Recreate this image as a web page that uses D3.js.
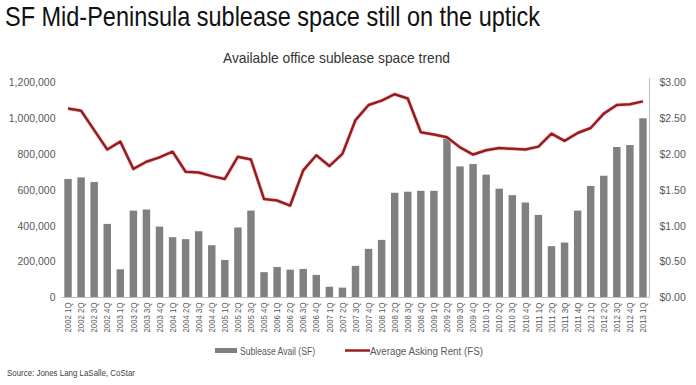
<!DOCTYPE html>
<html><head><meta charset="utf-8">
<script src="https://cdn.jsdelivr.net/npm/d3@7"></script>
<style>body{margin:0;background:#fff;}svg{display:block;font-family:"Liberation Sans",Arial,sans-serif;}</style>
</head><body><svg id="c" width="696" height="385"></svg>
<script>
const quarters = ["2002 1Q","2002 2Q","2002 3Q","2002 4Q","2003 1Q","2003 2Q","2003 3Q","2003 4Q","2004 1Q","2004 2Q","2004 3Q","2004 4Q","2005 1Q","2005 2Q","2005 3Q","2005 4Q","2006 1Q","2006 2Q","2006 3Q","2006 4Q","2007 1Q","2007 2Q","2007 3Q","2007 4Q","2008 1Q","2008 2Q","2008 3Q","2008 4Q","2009 1Q","2009 2Q","2009 3Q","2009 4Q","2010 1Q","2010 2Q","2010 3Q","2010 4Q","2011 1Q","2011 2Q","2011 3Q","2011 4Q","2012 1Q","2012 2Q","2012 3Q","2012 4Q","2013 1Q"];
const subleaseSF = [660000,669000,643000,410000,157000,484000,490000,395000,336000,325000,369000,291000,209000,390000,484000,141000,170000,155000,159000,126000,60000,55000,176000,271000,321000,583000,589000,594000,594000,885000,730000,743000,684000,606000,570000,529000,460000,286000,306000,484000,621000,678000,838000,849000,998000];
const askingRent = [2.63,2.60,2.33,2.06,2.17,1.79,1.89,1.95,2.03,1.75,1.74,1.69,1.65,1.96,1.92,1.37,1.35,1.28,1.77,1.98,1.83,2.00,2.47,2.68,2.74,2.83,2.77,2.30,2.27,2.23,2.09,1.99,2.05,2.08,2.07,2.06,2.10,2.28,2.18,2.29,2.36,2.56,2.68,2.69,2.73];
const leftTicks = [0,200000,400000,600000,800000,1000000,1200000];
const rightTicks = [0,0.5,1,1.5,2,2.5,3];
const title = "SF Mid-Peninsula sublease space still on the uptick";
const subtitle = "Available office sublease space trend";
const legendLabels = ["Sublease Avail (SF)","Average Asking Rent (FS)"];
const source = "Source: Jones Lang LaSalle, CoStar";

const svg = d3.select("#c");
const L = 61.5, R = 649.5, T = 82, B = 297.5;
const x = d3.scaleBand().domain(quarters).range([L,R]).paddingInner(0.43).paddingOuter(0.215);
const yL = d3.scaleLinear().domain([0,1200000]).range([B,T]);
const yR = d3.scaleLinear().domain([0,3]).range([B,T]);

svg.append("text").attr("x",5).attr("y",26).attr("font-size",28).attr("fill","#111")
  .attr("textLength",535).attr("lengthAdjust","spacingAndGlyphs").text(title);
svg.append("text").attr("x",223).attr("y",62.5).attr("font-size",15).attr("fill","#333")
  .attr("textLength",227).attr("lengthAdjust","spacingAndGlyphs").text(subtitle);

// bars
svg.append("g").selectAll("rect").data(subleaseSF).join("rect")
  .attr("x",(d,i)=>x(quarters[i])).attr("width",x.bandwidth())
  .attr("y",d=>yL(d)).attr("height",d=>B-yL(d)).attr("fill","#808080");

// baseline
svg.append("line").attr("x1",L).attr("x2",R).attr("y1",B).attr("y2",B).attr("stroke","#bfbfbf");
// right axis line
svg.append("line").attr("x1",R).attr("x2",R).attr("y1",T-4).attr("y2",B).attr("stroke","#bfbfbf");

// left axis
const gl = svg.append("g").attr("transform",`translate(${L-6},0)`)
  .call(d3.axisLeft(yL).tickValues(leftTicks).tickSize(0).tickPadding(0).tickFormat(d3.format(",")));
gl.select(".domain").remove();
gl.selectAll("text").attr("font-size",10.5).attr("fill","#595959").attr("font-family","Liberation Sans, Arial, sans-serif");

// right axis
const gr = svg.append("g").attr("transform",`translate(${R+10},0)`)
  .call(d3.axisRight(yR).tickValues(rightTicks).tickSize(0).tickPadding(0).tickFormat(d=>"$"+d3.format(".2f")(d)));
gr.select(".domain").remove();
gr.selectAll("text").attr("font-size",10.5).attr("fill","#595959").attr("font-family","Liberation Sans, Arial, sans-serif");

// x axis
const gx = svg.append("g").attr("transform",`translate(0,${B})`)
  .call(d3.axisBottom(x).tickSize(0).tickPadding(0));
gx.select(".domain").remove();
gx.selectAll("text").attr("font-size",9).attr("fill","#595959").attr("font-family","Liberation Sans, Arial, sans-serif")
  .attr("text-anchor","end").attr("dy","0.35em").attr("transform","translate(0,5) rotate(-90)")
  .attr("textLength",30).attr("lengthAdjust","spacingAndGlyphs");

// line
const line = d3.line().x((d,i)=>x(quarters[i])+x.bandwidth()/2).y(d=>yR(d));
svg.append("path").datum(askingRent).attr("d",line).attr("fill","none")
  .attr("stroke","#e8b4b4").attr("stroke-width",4).attr("stroke-linejoin","round").attr("opacity",0.6);
svg.append("path").datum(askingRent).attr("d",line).attr("fill","none")
  .attr("stroke","#9a1b1e").attr("stroke-width",2.5).attr("stroke-linejoin","round");

// legend
svg.append("rect").attr("x",215).attr("y",348).attr("width",22).attr("height",5).attr("fill","#808080");
svg.append("text").attr("x",240).attr("y",354.5).attr("font-size",10).attr("fill","#595959")
  .attr("textLength",75).attr("lengthAdjust","spacingAndGlyphs").text(legendLabels[0]);
svg.append("line").attr("x1",345).attr("x2",370).attr("y1",350.5).attr("y2",350.5).attr("stroke","#9a1b1e").attr("stroke-width",2.5);
svg.append("text").attr("x",370).attr("y",354.5).attr("font-size",10).attr("fill","#595959")
  .attr("textLength",113).attr("lengthAdjust","spacingAndGlyphs").text(legendLabels[1]);

svg.append("text").attr("x",7).attr("y",376).attr("font-size",8.5).attr("fill","#404040")
  .attr("textLength",128).attr("lengthAdjust","spacingAndGlyphs").text(source);
</script></body></html>
